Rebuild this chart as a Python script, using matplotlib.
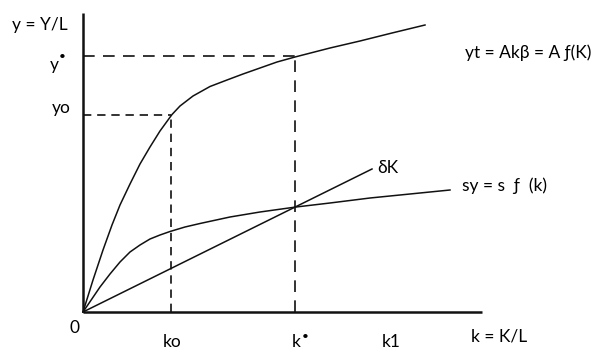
import matplotlib
matplotlib.use("Agg")
import matplotlib.pyplot as plt

plt.rcParams['font.family'] = ['Lato', 'DejaVu Sans']

# upper production curve yt = A f(K)
k_top = [0, 0.10, 0.20, 0.29, 0.37, 0.47, 0.57, 0.67, 0.77, 0.89, 0.97, 1.10, 1.27,
         1.44, 1.60, 1.77, 1.94, 2.12, 2.47, 2.77, 3.09, 3.42]
y_top = [0, 0.32, 0.62, 0.87, 1.07, 1.28, 1.48, 1.65, 1.81, 1.975, 2.06, 2.16, 2.255,
         2.32, 2.38, 2.44, 2.50, 2.55, 2.64, 2.71, 2.79, 2.87]

# savings curve sy = s f(k)
k_sav = [0, 0.17, 0.27, 0.37, 0.47, 0.57, 0.67, 0.77, 0.87, 1.02, 1.17, 1.47,
         1.77, 2.13, 2.47, 2.87, 3.27, 3.67]
y_sav = [0, 0.25, 0.38, 0.50, 0.60, 0.67, 0.73, 0.77, 0.805, 0.85, 0.885, 0.95,
         1.00, 1.05, 1.09, 1.14, 1.18, 1.22]

# depreciation line dK
k_dep = [0, 2.89]
y_dep = [0, 1.43]

# marked levels
k_ticks = [0.88, 2.12, 3.07]
k_labels = ['ko', 'k', 'k1']
y_levels = [2.56, 1.97]
y_labels = ['y', 'yo']
k_max = 3.99
y_max = 2.99

fig = plt.figure(figsize=(6.10, 3.49), dpi=100)
ax = fig.add_axes([0, 0, 1, 1])
ax.set_xlim(-0.83, 5.27)
ax.set_ylim(-0.37, 3.12)
ax.axis('off')

ink = '#111111'

# axes
ax.plot([0, k_max], [0, 0], color=ink, lw=1.8, solid_capstyle='butt')
ax.plot([0, 0], [0, y_max], color=ink, lw=1.8, solid_capstyle='butt')

# curves
ax.plot(k_top, y_top, color=ink, lw=1.1)
ax.plot(k_sav, y_sav, color=ink, lw=1.1)
ax.plot(k_dep, y_dep, color=ink, lw=1.1)

# guide lines
ko, ks = k_ticks[0], k_ticks[1]
ys, yo = y_levels
ax.plot([0, ks], [ys, ys], color=ink, lw=1.2, dashes=(7, 5))
ax.plot([ks, ks], [0, ys], color=ink, lw=1.2, dashes=(7, 5))
ax.plot([0, ko], [yo, yo], color=ink, lw=1.2, dashes=(5, 3.5))
ax.plot([ko, ko], [0, yo], color=ink, lw=1.2, dashes=(5, 3.5))

fs = 12.5
col = '#000000'
ax.text(-0.15, 2.87, 'y = Y/L', ha='right', va='center', fontsize=fs, color=col)
ax.text(-0.24, 2.47, y_labels[0], ha='right', va='center', fontsize=fs, color=col)
ax.text(-0.245, 2.55, '•', ha='left', va='center', fontsize=8.5, color=col)
ax.text(-0.12, 2.04, y_labels[1], ha='right', va='center', fontsize=fs, color=col)
ax.text(-0.08, -0.16, '0', ha='center', va='center', fontsize=fs, color=col)
for k, lab in zip(k_ticks, k_labels):
    ax.text(k + 0.01, -0.30, lab, ha='center', va='center', fontsize=fs, color=col)
ax.text(ks + 0.065, -0.25, '•', ha='left', va='center', fontsize=8.5, color=col)
ax.text(4.16, -0.25, 'k = K/L', ha='center', va='center', fontsize=fs, color=col)
ax.text(3.82, 2.59, 'yt = Akβ = A ƒ(K)', ha='left', va='center', fontsize=fs, color=col)
ax.text(2.94, 1.44, 'δK', ha='left', va='center', fontsize=fs, color=col)
ax.text(3.79, 1.26, 'sy = s  ƒ  (k)', ha='left', va='center', fontsize=fs, color=col)

fig.savefig('out.png', dpi=100)
